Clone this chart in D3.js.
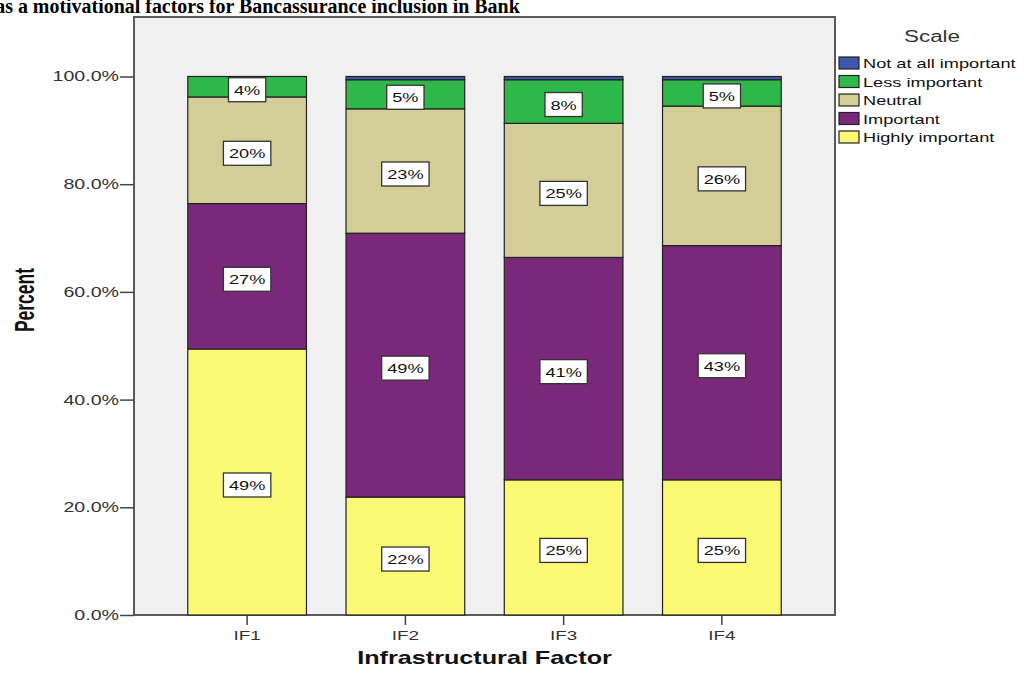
<!DOCTYPE html>
<html>
<head>
<meta charset="utf-8">
<script src="https://cdn.jsdelivr.net/npm/d3@7"></script>
<style>
  body { margin: 0; background: #fff; }
  svg { display: block; }
</style>
</head>
<body>
<svg id="chart" width="1024" height="673"></svg>
<script>
// Infrastructural factors, percent of respondents per importance level
const factors = ["IF1", "IF2", "IF3", "IF4"];
const scaleLevels = ["Highly important", "Important", "Neutral", "Less important", "Not at all important"];
const highlyImportant = [49.4, 21.9, 25.1, 25.1];
const important       = [27.0, 49.0, 41.3, 43.5];
const neutral         = [19.8, 23.1, 24.9, 25.9];
const lessImportant   = [3.8, 5.4, 8.1, 4.9];
const notAtAll        = [0.0, 0.6, 0.6, 0.6];
const yTicks = [0, 20, 40, 60, 80, 100];
const levelColors = ["#fbf873", "#79287a", "#d3ce97", "#2fb84a", "#3e58ac"];

const seriesValues = [highlyImportant, important, neutral, lessImportant, notAtAll];
const rows = factors.map((f, i) => {
  const r = { factor: f };
  scaleLevels.forEach((lvl, j) => { r[lvl] = seriesValues[j][i]; });
  return r;
});

// chart glyphs are drawn horizontally widened
const SX = 1.4;
const SANS = "Liberation Sans, Arial, sans-serif";

const svg = d3.select("#chart");

// widened text helper: anchor point (x, y), glyphs stretched by SX
function wideText(parent, x, y, str, opts) {
  const o = Object.assign({ size: 13, weight: "normal", anchor: "start", fill: "#111", sx: SX }, opts || {});
  return parent.append("text")
    .attr("transform", `translate(${x},${y}) scale(${o.sx},1)`)
    .attr("text-anchor", o.anchor)
    .attr("font-family", SANS)
    .attr("font-size", o.size)
    .attr("font-weight", o.weight)
    .attr("fill", o.fill)
    .text(str);
}

// plot frame
const frame = { left: 134, top: 17, right: 835, bottom: 615 };

const x = d3.scaleBand().domain(factors).range([168, 801]).paddingInner(0.25).paddingOuter(0.125);
const y = d3.scaleLinear().domain([0, 100]).range([615, 76.5]);
const color = d3.scaleOrdinal().domain(scaleLevels).range(levelColors);

// title (runs off the top-left of the page)
const TITLE_FONT = "Liberation Serif, Times New Roman, serif";
const TITLE_SIZE = 21;
const titleStr = "Infrastructural factors as a motivational factors for Bancassurance inclusion in Bank";
const leadStr = "Infrastructural factors as ";
function measure(str) {
  const p = svg.append("text")
    .attr("font-family", TITLE_FONT).attr("font-weight", "bold").attr("font-size", TITLE_SIZE)
    .text(str);
  const w = p.node().getComputedTextLength();
  p.remove();
  return w;
}
const leadW = measure(leadStr);
const tailW = measure(titleStr) - leadW;
const tsx = 507 / tailW;   // visible tail spans x 13..520
svg.append("text")
  .attr("transform", `translate(${13 - leadW * tsx},12.5) scale(${tsx},1)`)
  .attr("font-family", TITLE_FONT)
  .attr("font-weight", "bold")
  .attr("font-size", TITLE_SIZE)
  .attr("fill", "#000")
  .text(titleStr);

// plot background
svg.append("rect")
  .attr("x", frame.left).attr("y", frame.top)
  .attr("width", frame.right - frame.left).attr("height", frame.bottom - frame.top)
  .attr("fill", "#f0f0f0")
  .attr("stroke", "#5a5a5a").attr("stroke-width", 2);

// stacked bars
const stack = d3.stack().keys(scaleLevels);
const layers = stack(rows);

const g = svg.append("g");
layers.forEach(layer => {
  g.selectAll(null).data(layer).enter().append("rect")
    .attr("x", d => x(d.data.factor))
    .attr("width", x.bandwidth())
    .attr("y", d => y(d[1]))
    .attr("height", d => y(d[0]) - y(d[1]))
    .attr("fill", color(layer.key))
    .attr("stroke", d => (d[1] - d[0]) > 0 ? "#222" : "none")
    .attr("stroke-width", 1.2);
});

// value labels
const labelLevels = ["Highly important", "Important", "Neutral", "Less important"];
layers.filter(l => labelLevels.includes(l.key)).forEach(layer => {
  layer.forEach(d => {
    const v = d[1] - d[0];
    const txt = Math.round(v) + "%";
    const cx = x(d.data.factor) + x.bandwidth() / 2;
    const cy = y((d[0] + d[1]) / 2) + 3;
    const lg = g.append("g");
    const t = wideText(lg, cx, cy + 5, txt, { size: 13, anchor: "middle", fill: "#111" });
    const w = t.node().getComputedTextLength() * SX + 11;
    lg.insert("rect", "text")
      .attr("x", cx - w / 2).attr("y", cy - 12)
      .attr("width", w).attr("height", 24)
      .attr("fill", "#fff")
      .attr("stroke", "#333").attr("stroke-width", 1.3);
  });
});

// y axis
const yAxis = d3.axisLeft(y).tickValues(yTicks).tickFormat(d => d.toFixed(1) + "%").tickSize(14).tickPadding(1);
const yg = svg.append("g").attr("transform", `translate(${frame.left},0)`).call(yAxis);
yg.select(".domain").remove();
yg.selectAll(".tick line").attr("stroke", "#444").attr("stroke-width", 1.5);
yg.selectAll(".tick text")
  .attr("font-family", SANS)
  .attr("font-size", 14).attr("fill", "#333")
  .each(function () {
    const el = d3.select(this);
    const tx = +el.attr("x");
    el.attr("x", 0).attr("transform", `translate(${tx},0) scale(${SX},1)`);
  });

// x axis
const xAxis = d3.axisBottom(x).tickSize(10).tickPadding(5);
const xg = svg.append("g").attr("transform", `translate(0,${frame.bottom})`).call(xAxis);
xg.select(".domain").remove();
xg.selectAll(".tick line").attr("stroke", "#444").attr("stroke-width", 1.5);
xg.selectAll(".tick text")
  .attr("font-family", SANS)
  .attr("font-size", 13.5).attr("fill", "#333")
  .attr("transform", `scale(${SX},1)`);

// axis titles
svg.append("text")
  .attr("transform", `translate(34,300) scale(1.6,1) rotate(-90)`)
  .attr("text-anchor", "middle")
  .attr("font-family", SANS)
  .attr("font-weight", "bold").attr("font-size", 17.5)
  .attr("fill", "#111")
  .text("Percent");

wideText(svg, (frame.left + frame.right) / 2, 664, "Infrastructural Factor",
  { size: 18, weight: "bold", anchor: "middle", fill: "#111" });

// legend
const legendOrder = ["Not at all important", "Less important", "Neutral", "Important", "Highly important"];
const legend = svg.append("g");
wideText(legend, 932, 42, "Scale", { size: 16, anchor: "middle", fill: "#333" });
legendOrder.forEach((lvl, i) => {
  const ly = 57 + i * 18.5;
  legend.append("rect")
    .attr("x", 839).attr("y", ly)
    .attr("width", 20).attr("height", 12)
    .attr("fill", color(lvl))
    .attr("stroke", "#222").attr("stroke-width", 1.2);
  wideText(legend, 863, ly + 11, lvl, { size: 13, fill: "#111" });
});
</script>
</body>
</html>
